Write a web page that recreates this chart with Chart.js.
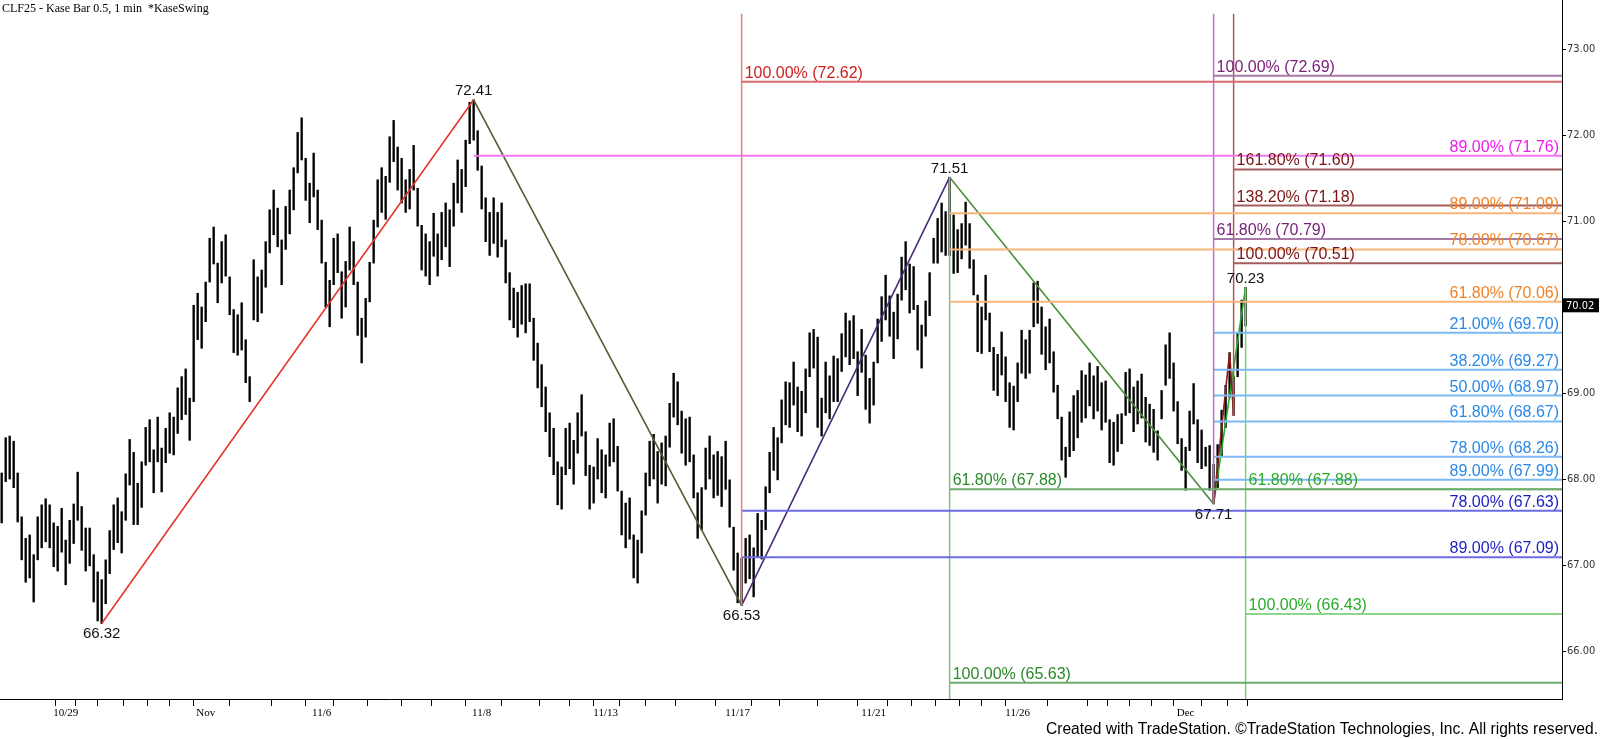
<!DOCTYPE html>
<html>
<head>
<meta charset="utf-8">
<title>CLF25 - Kase Bar 0.5</title>
<script src="https://cdn.jsdelivr.net/npm/chart.js@4.4.1/dist/chart.umd.min.js"></script>
<style>
    html, body { margin: 0; padding: 0; background: #fff; }
    #wrap { position: relative; width: 1600px; height: 739px; }
</style>
</head>
<body>
<div id="wrap"><canvas id="chart" width="1600" height="739"></canvas></div>
<script>
// ---- data ----
// one entry per bar, left to right
const highs = [
    68.07, 68.48, 68.50, 68.44, 68.07, 67.56, 67.31, 67.35, 67.12, 67.56,
    67.70, 67.77, 67.70, 67.49, 67.45, 67.66, 67.29, 67.52, 67.71, 68.08,
    67.68, 67.43, 67.43, 67.12, 66.92, 66.83, 67.06, 67.40, 67.70, 67.78,
    67.62, 68.06, 68.46, 68.31, 67.95, 68.20, 68.60, 68.69, 68.34, 68.72,
    68.36, 68.59, 68.77, 68.72, 69.06, 69.19, 69.28, 68.94, 70.02, 70.16,
    70.00, 70.29, 70.80, 70.93, 70.51, 70.76, 70.84, 70.35, 69.97, 69.91,
    70.05, 69.62, 69.19, 70.55, 70.35, 70.43, 70.76, 71.13, 71.36, 71.15,
    70.78, 71.17, 71.36, 71.62, 72.03, 72.20, 71.73, 71.44, 71.79, 71.36,
    71.01, 70.52, 70.31, 70.80, 70.85, 70.41, 70.53, 70.93, 70.76, 70.29,
    69.87, 70.10, 70.52, 71.01, 71.48, 71.62, 71.52, 71.98, 72.17, 71.86,
    71.73, 71.48, 71.60, 71.88, 71.38, 70.95, 70.85, 70.76, 71.09, 70.85,
    71.10, 71.21, 71.13, 71.44, 71.71, 71.60, 71.94, 72.38, 72.41, 72.05,
    71.64, 71.27, 71.10, 71.27, 71.10, 71.21, 70.78, 70.40, 70.22, 70.17,
    70.25, 70.27, 70.27, 69.87, 69.58, 69.33, 69.07, 68.77, 68.59, 68.20,
    68.14, 68.59, 68.65, 68.45, 68.77, 68.98, 68.55, 68.16, 68.14, 68.47,
    68.34, 68.28, 68.65, 68.70, 68.38, 67.86, 67.72, 67.78, 67.35, 67.29,
    67.63, 68.07, 68.44, 68.52, 68.32, 68.42, 68.50, 68.88, 69.23, 69.13,
    68.79, 68.70, 68.72, 68.28, 67.84, 67.90, 68.36, 68.50, 68.28, 68.32,
    68.26, 68.44, 67.99, 67.44, 67.14, 67.08, 67.31, 67.35, 67.20, 67.60,
    67.52, 67.91, 68.31, 68.60, 68.48, 68.92, 69.13, 69.12, 69.36, 69.07,
    69.02, 69.28, 69.70, 69.74, 69.65, 68.94, 69.36, 69.20, 69.43, 69.40,
    69.69, 69.93, 69.84, 69.90, 69.48, 69.74, 69.44, 69.17, 69.36, 69.86,
    70.12, 70.37, 70.13, 69.94, 70.15, 70.58, 70.76, 70.50, 70.47, 70.02,
    69.79, 70.07, 70.40, 70.80, 71.03, 71.21, 71.11, 71.51, 71.07, 70.90,
    70.97, 71.22, 70.97, 70.55, 70.14, 70.00, 70.37, 69.93, 69.53, 69.45,
    69.71, 69.42, 69.12, 69.08, 69.35, 69.73, 69.62, 69.73, 70.28, 70.30,
    70.00, 69.77, 69.86, 69.48, 69.09, 68.72, 68.37, 68.78, 68.97, 69.03,
    69.26, 69.21, 69.35, 69.20, 69.31, 69.12, 69.14, 68.69, 68.66, 68.75,
    68.76, 69.24, 69.28, 69.07, 69.14, 69.22, 68.95, 68.87, 68.81, 68.56,
    69.03, 69.56, 69.70, 69.35, 68.90, 68.47, 68.37, 68.79, 69.11, 68.69,
    68.57, 68.37, 68.39, 68.17, 68.40, 68.80, 69.09, 69.47, 69.19, 69.70,
    70.08, 70.23
];
const lows = [
    67.49, 67.97, 68.00, 67.90, 67.50, 67.06, 66.80, 66.85, 66.57, 67.06,
    67.20, 67.27, 67.20, 66.98, 66.93, 67.15, 66.77, 67.02, 67.25, 67.52,
    67.17, 66.93, 66.99, 66.57, 66.35, 66.32, 66.55, 66.90, 67.18, 67.26,
    67.14, 67.52, 67.93, 67.47, 67.47, 67.67, 68.16, 68.20, 67.84, 68.20,
    67.85, 68.19, 68.30, 68.28, 68.53, 68.69, 68.75, 68.45, 68.90, 69.62,
    69.52, 69.83, 70.29, 70.50, 70.05, 70.28, 70.36, 69.91, 69.47, 69.44,
    69.50, 69.12, 68.90, 69.85, 69.83, 69.93, 70.23, 70.63, 70.84, 70.70,
    70.26, 70.67, 70.85, 71.13, 71.56, 71.71, 71.24, 70.98, 71.28, 70.90,
    70.51, 70.00, 69.77, 70.26, 70.40, 69.87, 70.00, 70.43, 70.26, 69.67,
    69.35, 69.65, 70.06, 70.51, 70.93, 71.10, 71.02, 71.45, 71.69, 71.36,
    71.21, 71.10, 71.14, 71.36, 70.94, 70.43, 70.36, 70.26, 70.59, 70.36,
    70.55, 70.70, 70.47, 70.94, 71.21, 71.10, 71.40, 71.90, 71.94, 71.59,
    71.14, 70.76, 70.60, 70.74, 70.58, 70.70, 70.28, 69.85, 69.76, 69.65,
    69.80, 69.70, 69.83, 69.38, 69.06, 68.84, 68.55, 68.26, 68.05, 67.70,
    67.65, 68.05, 68.12, 67.94, 68.30, 68.50, 68.04, 67.65, 67.72, 68.00,
    67.84, 67.78, 68.15, 68.20, 67.86, 67.35, 67.20, 67.30, 66.85, 66.79,
    67.14, 67.58, 67.92, 68.00, 67.72, 67.94, 67.92, 68.37, 68.72, 68.63,
    68.30, 68.16, 68.20, 67.78, 67.31, 67.41, 67.88, 68.00, 67.78, 67.81,
    67.68, 67.88, 67.44, 66.94, 66.56, 66.53, 66.79, 66.84, 66.63, 67.09,
    67.07, 67.41, 67.84, 68.10, 67.99, 68.42, 68.63, 68.60, 68.86, 68.55,
    68.50, 68.77, 69.19, 69.29, 68.60, 68.50, 68.77, 68.70, 68.90, 68.90,
    69.25, 69.42, 69.33, 69.40, 68.97, 69.24, 68.81, 68.65, 68.86, 69.35,
    69.60, 69.85, 69.66, 69.40, 69.63, 70.08, 70.20, 69.93, 69.97, 69.50,
    69.29, 69.66, 69.90, 70.51, 70.51, 70.64, 70.60, 70.60, 70.39, 70.40,
    70.56, 70.72, 70.45, 70.14, 69.48, 69.46, 69.85, 69.48, 69.03, 68.97,
    69.21, 68.90, 68.60, 68.57, 68.90, 69.23, 69.17, 69.23, 69.77, 69.81,
    69.45, 69.27, 69.35, 69.01, 68.70, 68.22, 68.02, 68.26, 68.33, 68.48,
    68.66, 68.71, 68.85, 68.70, 68.79, 68.57, 68.66, 68.19, 68.16, 68.32,
    68.41, 68.74, 68.77, 68.55, 68.64, 68.71, 68.43, 68.39, 68.31, 68.22,
    68.70, 69.09, 69.17, 68.79, 68.41, 68.10, 67.87, 68.33, 68.64, 68.19,
    68.12, 68.15, 67.87, 67.71, 67.90, 68.26, 68.60, 68.95, 68.74, 69.19,
    69.53, 69.78
];
const lastClose = 70.02;

// swing points: [bar index, price, 'H' or 'L']
const swings = [
    [25, 66.32, 'L'], [118, 72.41, 'H'], [185, 66.53, 'L'],
    [237, 71.51, 'H'], [303, 67.71, 'L'], [311, 70.23, 'H']
];

// zigzag legs, [bar index, price]
const legRed = [[25, 66.32], [118, 72.41]];
const legOlive = [[118, 72.41], [185, 66.53]];
const legViolet = [[185, 66.53], [237, 71.51]];
const legGreen = [[237, 71.51], [303, 67.71]];
const legMaroon = [[303, 67.71], [307, 69.47], [308, 68.74]];
const legLime = [[303, 67.71], [311, 70.23]];

// fib levels, [percent, price]
const redFib = [[100, 72.62]];
const magentaFib = [[89, 71.76]];
const purpleFib = [[100, 72.69], [61.8, 70.79]];
const maroonFib = [[161.8, 71.60], [138.2, 71.18], [100, 70.51]];
const orangeFib = [[89, 71.09], [78, 70.67], [61.8, 70.06]];
const skyFib = [[21, 69.70], [38.2, 69.27], [50, 68.97], [61.8, 68.67], [78, 68.26], [89, 67.99]];
const indigoFib = [[78, 67.63], [89, 67.09]];
const greenFib = [[61.8, 67.88], [100, 65.63]];
const limeFib = [[61.8, 67.88], [100, 66.43]];

// x axis: session ticks (bar index) and the dates printed under some of them
const xTicks = [16, 21, 27, 34, 39, 45, 51, 63, 72, 80, 86, 97, 103, 112, 120, 130, 139, 145, 151,
    158, 164, 173, 184, 191, 198, 210, 218, 225, 230, 237, 242, 248, 254, 269, 274, 279, 285, 290,
    296, 304, 309];
const xTickLabels = { 16: '10/29', 51: 'Nov', 80: '11/6', 120: '11/8', 151: '11/13', 184: '11/17',
    218: '11/21', 254: '11/26', 296: 'Dec' };
const yTicks = [66, 67, 68, 69, 70, 71, 72, 73];

// ---- view settings ----
const X_MIN = -0.42, X_MAX = 390.1;
const Y_MIN = 65.442, Y_MAX = 73.57;
const V_TOP = 73.41;   // where the vertical fib lines start
const LABEL_FONT = '16px "Liberation Sans", Arial, sans-serif';

const fibSets = [
    { levels: redFib, start: 185, vert: [V_TOP, 66.53], side: 'left', line: '#d96a6a', vline: '#ee7b7b', text: '#d01c1c' },
    { levels: magentaFib, start: 118, side: 'right', line: '#f07af0', text: '#ee1bee' },
    { levels: indigoFib, start: 185, side: 'right', line: '#6b6be6', text: '#1d1dbf' },
    { levels: orangeFib, start: 237, side: 'right', line: '#f8b479', text: '#f08226' },
    { levels: greenFib, start: 237, vert: [71.51, Y_MIN], side: 'left', line: '#6fab6f', vline: '#7dbd7d', text: '#2a8a2a' },
    { levels: purpleFib, start: 303, vert: [V_TOP, 67.71], side: 'left', line: '#a67aa8', vline: '#b474c4', text: '#7a217a' },
    { levels: skyFib, start: 303, side: 'right', line: '#7cb9f0', text: '#2a88e6' },
    { levels: maroonFib, start: 308, vert: [V_TOP, 68.74], side: 'left', line: '#a35d5d', vline: '#b25656', text: '#7a1414' },
    { levels: limeFib, start: 311, vert: [70.23, Y_MIN], side: 'left', line: '#8cd68c', vline: '#78d078', text: '#2aab2a' }
];

const legStyles = [
    [legRed, '#e5352e'], [legOlive, '#535c30'], [legViolet, '#4b2c78'],
    [legGreen, '#4a8c3c'], [legMaroon, '#8e1c1c'], [legLime, '#22b022']
];

function fmtLevel(pct, price) {
    return pct.toFixed(2) + '% (' + price.toFixed(2) + ')';
}

function lineSet(points, color, width) {
    return {
        type: 'line',
        data: points.map(p => ({ x: p[0], y: p[1] })),
        borderColor: color,
        borderWidth: width,
        pointRadius: 0,
        tension: 0,
        fill: false,
        order: 1
    };
}

// build datasets
const datasets = [];
datasets.push({
    type: 'bar',
    data: highs.map((h, i) => ({ x: i, y: [lows[i], h] })),
    backgroundColor: '#000',
    barThickness: 1.7,
    grouped: false,
    order: 5
});

fibSets.forEach(set => {
    if (set.vert) {
        datasets.push(lineSet([[set.start, set.vert[0]], [set.start, set.vert[1]]], set.vline, 1.5));
    }
    set.levels.forEach(lv => {
        datasets.push(lineSet([[set.start, lv[1]], [X_MAX, lv[1]]], set.line, 2));
    });
});

legStyles.forEach(([pts, color]) => datasets.push(lineSet(pts, color, 1.6)));

// text drawn on top: fib labels, swing prices, title, price box, footer
const textPlugin = {
    id: 'textPlugin',
    afterDatasetsDraw(chart) {
        const { ctx, chartArea, scales } = chart;
        const xs = scales.x, ys = scales.y;
        ctx.save();

        ctx.font = LABEL_FONT;
        ctx.textBaseline = 'alphabetic';
        fibSets.forEach(set => {
            ctx.fillStyle = set.text;
            set.levels.forEach(lv => {
                const y = ys.getPixelForValue(lv[1]) - 4;
                if (set.side === 'left') {
                    ctx.textAlign = 'left';
                    ctx.fillText(fmtLevel(lv[0], lv[1]), xs.getPixelForValue(set.start) + 3, y);
                } else {
                    ctx.textAlign = 'right';
                    ctx.fillText(fmtLevel(lv[0], lv[1]), chartArea.right - 3, y);
                }
            });
        });

        ctx.font = '15px "Liberation Sans", Arial, sans-serif';
        ctx.fillStyle = '#111';
        ctx.textAlign = 'center';
        swings.forEach(([i, price, kind]) => {
            const x = xs.getPixelForValue(i);
            const y = ys.getPixelForValue(price);
            if (kind === 'H') {
                ctx.textBaseline = 'bottom';
                ctx.fillText(price.toFixed(2), x, y - 1);
            } else {
                ctx.textBaseline = 'top';
                ctx.fillText(price.toFixed(2), x, y + 3);
            }
        });

        // title
        ctx.font = '12px "Liberation Serif", "Times New Roman", serif';
        ctx.textAlign = 'left';
        ctx.textBaseline = 'alphabetic';
        ctx.fillStyle = '#000';
        ctx.fillText('CLF25 - Kase Bar 0.5, 1 min  *KaseSwing', 2, 12);

        // last price box on the axis
        const py = ys.getPixelForValue(lastClose);
        ctx.fillStyle = '#000';
        ctx.fillRect(chartArea.right + 1, py - 7, 36, 14);
        ctx.fillStyle = '#fff';
        ctx.font = '11px "Liberation Sans Narrow", "DejaVu Sans Condensed", Arial, sans-serif';
        ctx.textBaseline = 'middle';
        ctx.fillText(lastClose.toFixed(2), chartArea.right + 4, py + 1);

        // footer
        ctx.font = '15.6px "Liberation Sans", Arial, sans-serif';
        ctx.fillStyle = '#000';
        ctx.textAlign = 'right';
        ctx.textBaseline = 'alphabetic';
        ctx.fillText('Created with TradeStation. \u00A9TradeStation Technologies, Inc. All rights reserved.', 1598, 734);

        ctx.restore();
    }
};

new Chart(document.getElementById('chart'), {
    data: { datasets },
    options: {
        responsive: false,
        devicePixelRatio: 1,
        animation: false,
        events: [],
        layout: { padding: 0 },
        plugins: { legend: { display: false }, tooltip: { enabled: false } },
        scales: {
            x: {
                type: 'linear',
                min: X_MIN,
                max: X_MAX,
                offset: false,
                border: { display: true, color: '#000', width: 1 },
                grid: { drawOnChartArea: false, drawTicks: true, tickLength: 7, color: '#000' },
                afterBuildTicks: axis => { axis.ticks = xTicks.map(v => ({ value: v })); },
                afterFit: axis => {
                    axis.height = 40;
                    axis.paddingLeft = 0;
                    axis.paddingRight = 0;
                },
                ticks: {
                    autoSkip: false,
                    maxRotation: 0,
                    padding: 1,
                    color: '#000',
                    font: { family: '"Liberation Serif", "Times New Roman", serif', size: 11 },
                    callback: v => xTickLabels[v] || ''
                }
            },
            y: {
                type: 'linear',
                position: 'right',
                min: Y_MIN,
                max: Y_MAX,
                border: { display: true, color: '#000', width: 1 },
                grid: { drawOnChartArea: false, drawTicks: true, tickLength: 4, color: '#000' },
                afterBuildTicks: axis => { axis.ticks = yTicks.map(v => ({ value: v })); },
                afterFit: axis => {
                    axis.width = 38;
                    axis.paddingTop = 0;
                    axis.paddingBottom = 0;
                },
                ticks: {
                    padding: 1,
                    color: '#333',
                    font: { family: '"Liberation Sans Narrow", "DejaVu Sans Condensed", Arial, sans-serif', size: 11 },
                    callback: v => v.toFixed(2)
                }
            }
        }
    },
    plugins: [textPlugin]
});
</script>
</body>
</html>
